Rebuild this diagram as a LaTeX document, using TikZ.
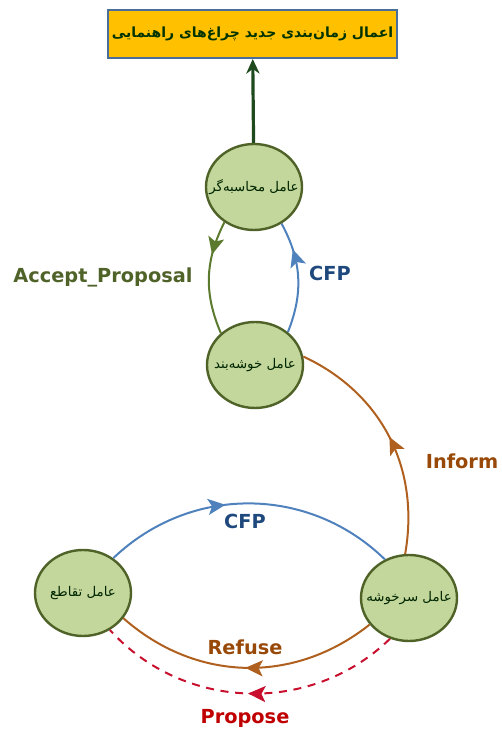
\documentclass[tikz,border=0pt]{standalone}
\usepackage{fontspec}
\setmainfont{DejaVu Sans}
\newfontfamily\farsi[Script=Arabic]{DejaVu Sans}
\TeXXeTstate=1
\usetikzlibrary{arrows.meta}
\usetikzlibrary{decorations.markings}
\usetikzlibrary{shapes.geometric}

\definecolor{agentfill}{HTML}{C3D69B}
\definecolor{agentborder}{HTML}{4F6228}
\definecolor{boxfill}{HTML}{FFC000}
\definecolor{boxborder}{HTML}{4A6E9C}
\definecolor{uparrow}{HTML}{1E4A1E}
\definecolor{acceptline}{HTML}{5B7A2E}
\definecolor{cfpline}{HTML}{4F81BD}
\definecolor{cfptext}{HTML}{1F497D}
\definecolor{brownline}{HTML}{B0601E}
\definecolor{browntext}{HTML}{984807}
\definecolor{redline}{HTML}{C8102E}
\definecolor{redtext}{HTML}{C00000}

\newcommand{\fa}[1]{\makebox[0pt]{\farsi\beginR #1\endR}}

\begin{document}
\begin{tikzpicture}[x = 0.75pt, y = 0.75pt,
		agent/.style = {ellipse, draw = agentborder, fill = agentfill, line width = 1.8pt,
			minimum width = 72pt, minimum height = 64.5pt, inner sep = 0pt,
			font = \fontsize{10}{12}\selectfont, text = black!85!green},
		msg/.style = {line width = 1.5pt, postaction = {decorate},
			decoration = {markings, mark = at position #1 with {\arrow{Stealth[length = 13pt, width = 12pt, inset = 3pt]}}}},
		lbl/.style = {font = \fontsize{14.5}{16}\selectfont\bfseries}]
				\useasboundingbox (0, 0) rectangle (501, 731);

				% agents
				\node[agent](comp) at (254, 544){\fa{عامل محاسبه^^^^200cگر}};
				\node[agent](clus) at (255, 366){\fa{عامل خوشه^^^^200cبند}};
				\node[agent](inter) at (83, 138){\fa{عامل تقاطع}};
				\node[agent](head) at (409, 133){\fa{عامل سرخوشه}};

				% output box
				\node[draw = boxborder, fill = boxfill, line width = 1.5pt, minimum width = 216.75pt, minimum height = 36pt,
					font = \fontsize{10.5}{12}\selectfont\bfseries, text = black!80!green](plan) at (252.5, 697){\raisebox{3pt}{\fa{اعمال زمان^^^^200cبندی جدید چراغ^^^^200cهای راهنمایی}}};

				\draw[uparrow, line width = 2.4pt, -{Stealth[length = 11pt, width = 10pt]}] (comp)--(plan);

				% messages
				\draw[acceptline, msg = 0.3] (comp.230) to[bend right = 25] (clus.137);
				\draw[cfpline, msg = 0.75] (clus.45) to[bend right = 25] (comp.307);
				\draw[brownline, msg = 0.5] (head.95) to[out = 80, in = -25] (clus.10);
				\draw[cfpline, msg = 0.42] (inter.49) to[bend left = 44] (head.122);
				\draw[brownline, msg = 0.5] (head.214) to[bend left = 40] (inter.328);
				\draw[redline, dashed, dash pattern = on 6pt off 5pt, msg = 0.5] (head.245) to[bend left = 46] (inter.306);

				% labels
				\node[lbl, text = agentborder](acc) at (103, 454){Accept\_Proposal};
				\node[lbl, text = cfptext](cfpa) at (330, 458){CFP};
				\node[lbl, text = browntext](inf) at (462, 270){Inform};
				\node[lbl, text = cfptext](cfpb) at (245, 210){CFP};
				\node[lbl, text = browntext](ref) at (245, 84){Refuse};
				\node[lbl, text = redtext](prop) at (245, 13){Propose};
			\end{tikzpicture}
\end{document}
